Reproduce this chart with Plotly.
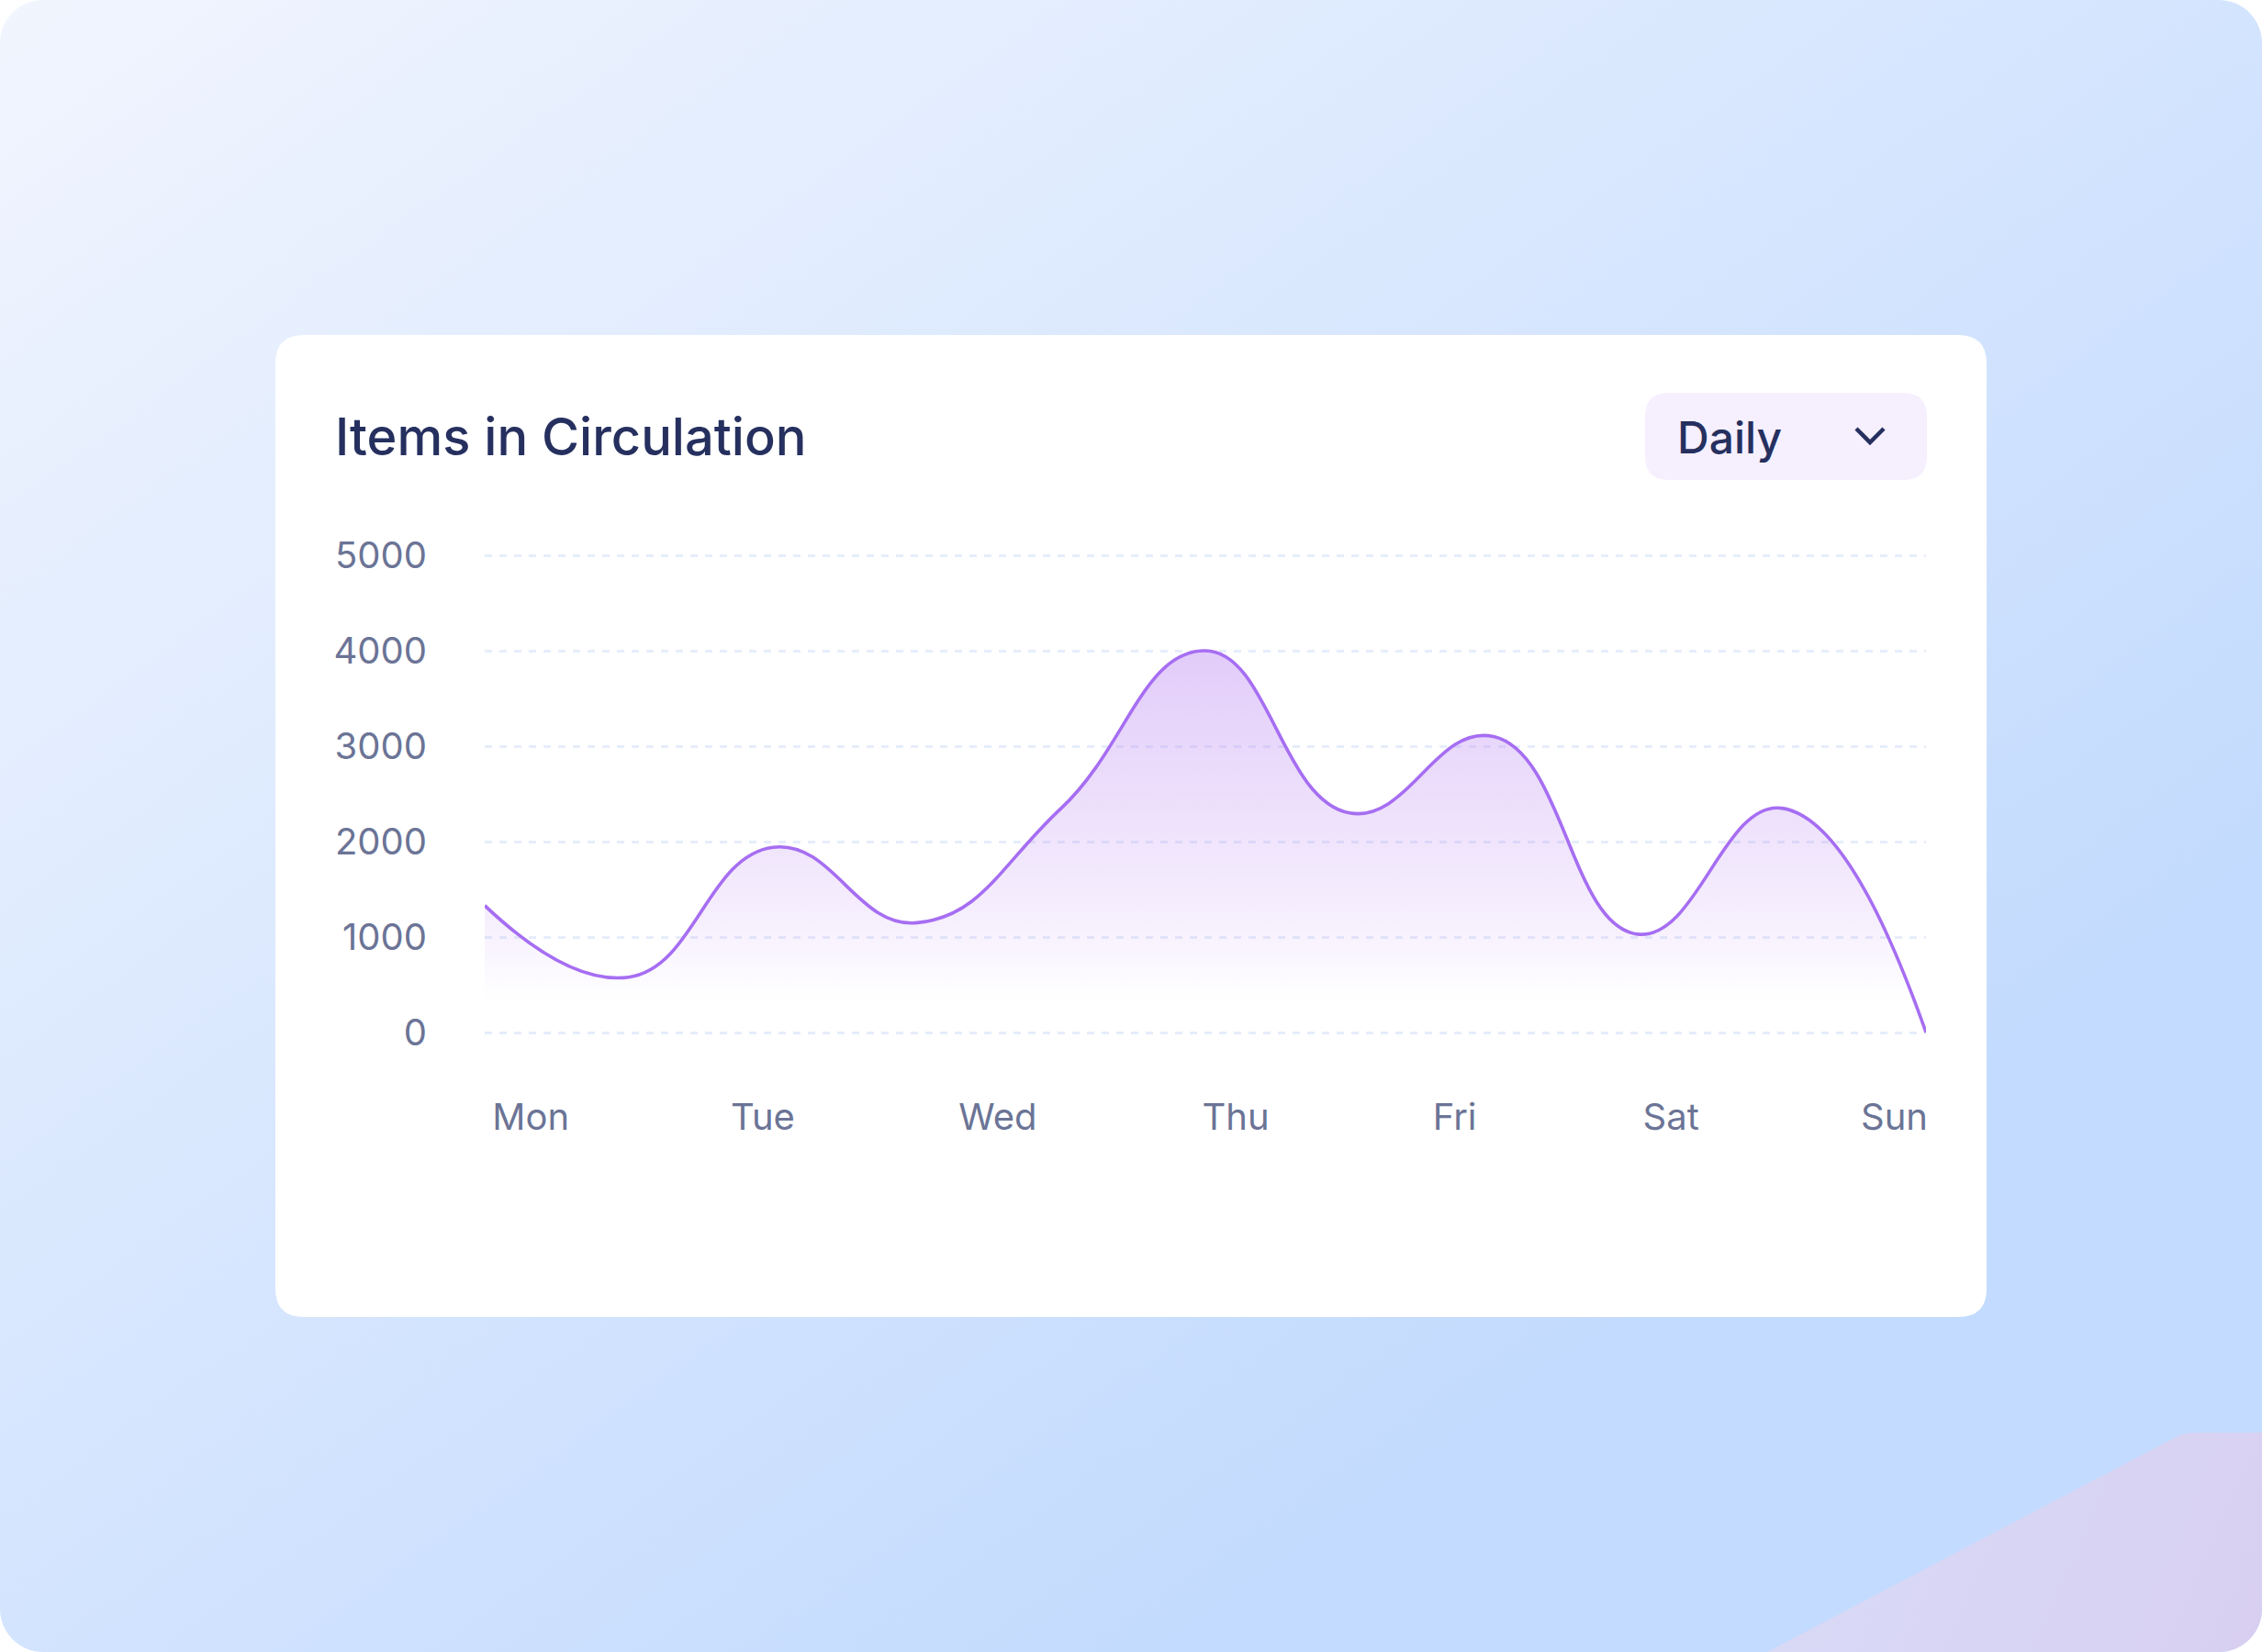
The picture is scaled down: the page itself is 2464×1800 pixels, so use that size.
import base64

import plotly.graph_objects as go

W, H = 2464, 1800

# data
days = ['Mon', 'Tue', 'Wed', 'Thu', 'Fri', 'Sat', 'Sun']
items = [1330, 580, 1940, 1150, 2350, 4000, 2300, 3100, 1030, 2350, 0]
steps = list(range(len(items)))
y_ticks = [0, 1000, 2000, 3000, 4000, 5000]

# layout positions (pixels of the 2464x1800 page)
day_tick_pos = [0.32, 1.93, 3.56, 5.21, 6.73, 8.23, 9.78]
plot_left, plot_right = 528, 2098
y0_px, y5000_px = 1125, 605
pad = 40  # data units of headroom so the line is not clipped at 0

navy = '#26305f'
muted = '#6b7496'
purple = '#a66ef2'


def px(x):
    return x / W


def py(y):
    return 1 - y / H


def rounded_rect(x0, y0, x1, y1, r):
    pts = [
        f'M{px(x0 + r)},{py(y0)}',
        f'L{px(x1 - r)},{py(y0)}',
        f'Q{px(x1)},{py(y0)} {px(x1)},{py(y0 + r)}',
        f'L{px(x1)},{py(y1 - r)}',
        f'Q{px(x1)},{py(y1)} {px(x1 - r)},{py(y1)}',
        f'L{px(x0 + r)},{py(y1)}',
        f'Q{px(x0)},{py(y1)} {px(x0)},{py(y1 - r)}',
        f'L{px(x0)},{py(y0 + r)}',
        f'Q{px(x0)},{py(y0)} {px(x0 + r)},{py(y0)}',
        'Z',
    ]
    return ' '.join(pts)


# page background: soft blue gradient with rounded corners and a lavender corner blob
bg_svg = f'''<svg xmlns="http://www.w3.org/2000/svg" width="{W}" height="{H}" viewBox="0 0 {W} {H}" preserveAspectRatio="none">
<defs>
<linearGradient id="g" x1="0" y1="0" x2="1300" y2="1800" gradientUnits="userSpaceOnUse">
<stop offset="0" stop-color="#f1f5fe"/><stop offset="1" stop-color="#c3dbfe"/>
</linearGradient>
<linearGradient id="p" x1="1900" y1="1550" x2="2464" y2="1800" gradientUnits="userSpaceOnUse">
<stop offset="0" stop-color="#d9dcf8"/><stop offset="1" stop-color="#d8cff0"/>
</linearGradient>
<clipPath id="c"><rect width="{W}" height="{H}" rx="47" ry="47"/></clipPath>
</defs>
<g clip-path="url(#c)">
<rect width="{W}" height="{H}" fill="url(#g)"/>
<path d="M1925 1800 L2370 1566 Q2378 1561 2395 1561 L2464 1561 L2464 1800 Z" fill="url(#p)"/>
</g>
</svg>'''
bg_uri = 'data:image/svg+xml;base64,' + base64.b64encode(bg_svg.encode()).decode()

fig = go.Figure()

fig.add_trace(go.Scatter(
    x=steps,
    y=items,
    mode='lines',
    line=dict(color=purple, width=3.6, shape='spline', smoothing=1.3),
    fill='tozeroy',
    fillgradient=dict(
        type='vertical',
        colorscale=[
            [0.0, 'rgba(178,120,240,0)'],
            [0.08, 'rgba(178,120,240,0.0)'],
            [0.3, 'rgba(178,120,240,0.12)'],
            [1.0, 'rgba(178,120,240,0.38)'],
        ],
    ),
    hoverinfo='skip',
    showlegend=False,
))

ppu = (y0_px - y5000_px) / 5000
fig.update_layout(
    width=W,
    height=H,
    autosize=False,
    margin=dict(l=0, r=0, t=0, b=0, pad=0, autoexpand=False),
    paper_bgcolor='white',
    plot_bgcolor='rgba(0,0,0,0)',
    font=dict(family='Inter, Noto Sans, sans-serif', color=muted),
    xaxis=dict(
        domain=[px(plot_left), px(plot_right)],
        range=[0, len(items) - 1],
        tickvals=day_tick_pos,
        ticktext=days,
        showgrid=False,
        zeroline=False,
        showline=False,
        ticks='',
        ticklabelstandoff=61,
        tickfont=dict(size=40, color=muted),
        automargin=False,
        fixedrange=True,
    ),
    yaxis=dict(
        domain=[py(y0_px + pad * ppu), py(y5000_px - pad * ppu)],
        range=[-pad, 5000 + pad],
        tickvals=y_ticks,
        showgrid=True,
        gridcolor='#e6edfb',
        gridwidth=2.5,
        griddash='8px,8px',
        zeroline=False,
        showline=False,
        ticks='',
        ticklabelstandoff=62,
        tickfont=dict(size=40, color=muted),
        automargin=False,
        fixedrange=True,
    ),
    images=[dict(
        source=bg_uri,
        xref='paper', yref='paper',
        x=0, y=1, sizex=1, sizey=1,
        xanchor='left', yanchor='top',
        sizing='stretch',
        layer='below',
    )],
    shapes=[
        # white card
        dict(type='path', xref='paper', yref='paper', layer='below',
             path=rounded_rect(300, 365, 2164, 1435, 31),
             fillcolor='white', line=dict(width=0)),
        # dropdown pill
        dict(type='path', xref='paper', yref='paper', layer='below',
             path=rounded_rect(1792, 428, 2099, 523, 26),
             fillcolor='#f5effe', line=dict(width=0)),
        # chevron
        dict(type='path', xref='paper', yref='paper', layer='above',
             path=f'M{px(2022)},{py(467)} L{px(2037)},{py(482)} L{px(2052)},{py(467)}',
             line=dict(color=navy, width=4.5)),
    ],
    annotations=[
        dict(text='Items in Circulation', xref='paper', yref='paper',
             x=px(363), y=py(476), xanchor='left', yanchor='middle', showarrow=False,
             font=dict(family='Inter', size=56, color=navy, weight=500)),
        dict(text='Daily', xref='paper', yref='paper',
             x=px(1825), y=py(476), xanchor='left', yanchor='middle', showarrow=False,
             font=dict(family='Inter', size=48, color=navy, weight=500)),
    ],
)

# pin the graph to the top-left corner of the page (no body margin)
pin = ("document.documentElement.style.margin='0';document.body.style.margin='0';"
       "document.body.style.padding='0';document.body.style.overflow='hidden';"
       "var d=document.getElementById('{plot_id}');"
       "d.style.position='fixed';d.style.left='0';d.style.top='0';")
fig.write_html("out.html", post_script=pin, config=dict(displayModeBar=False))
